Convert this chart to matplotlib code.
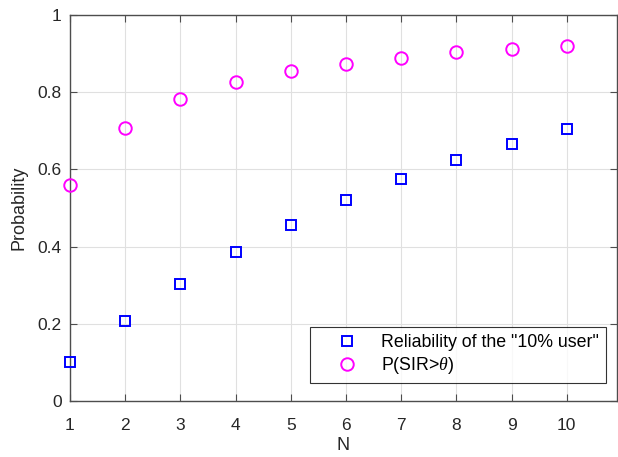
import matplotlib
matplotlib.use("Agg")
import matplotlib.pyplot as plt

N = [1, 2, 3, 4, 5, 6, 7, 8, 9, 10]
reliability = [0.100, 0.208, 0.303, 0.386, 0.456, 0.521, 0.575, 0.624, 0.666, 0.705]
p_sir = [0.560, 0.708, 0.782, 0.826, 0.855, 0.873, 0.889, 0.903, 0.912, 0.920]
xticks = [1, 2, 3, 4, 5, 6, 7, 8, 9, 10]
yticks = [0, 0.2, 0.4, 0.6, 0.8, 1]
ytick_labels = ["0", "0.2", "0.4", "0.6", "0.8", "1"]

plt.rcParams['font.family'] = ['Liberation Sans', 'DejaVu Sans']
plt.rcParams['mathtext.fontset'] = 'custom'
plt.rcParams['mathtext.it'] = 'Liberation Serif:italic'

fig = plt.figure(figsize=(6.18, 4.57), dpi=100)
ax = fig.add_axes([70/618, 1-401/457, (617-70)/618, (401-15)/457])

ax.plot(N, reliability, linestyle='none', marker='s', markersize=7, markerfacecolor='none',
        markeredgecolor=(0, 0, 1), markeredgewidth=1.4, label='Reliability of the "10% user"',
        clip_on=False, zorder=3)
ax.plot(N, p_sir, linestyle='none', marker='o', markersize=9, markerfacecolor='none',
        markeredgecolor=(1, 0, 1), markeredgewidth=1.4, label=r'P(SIR>$\theta$)',
        clip_on=False, zorder=3)

ax.set_xlim(1, 10.91)
ax.set_ylim(0, 1)
ax.set_xticks(xticks)
ax.set_yticks(yticks)
ax.set_yticklabels(ytick_labels)
ax.grid(True, color=(0.88, 0.88, 0.88), linewidth=0.8)
ax.set_axisbelow(True)
for s in ax.spines.values():
    s.set_color((0.3, 0.3, 0.3))
    s.set_linewidth(1.0)
ax.tick_params(direction='in', top=True, right=True, length=5, width=0.8,
               color=(0.3, 0.3, 0.3), labelcolor=(0.15, 0.15, 0.15), labelsize=12.5)
ax.tick_params(axis='x', pad=12)
ax.tick_params(axis='y', pad=6)
ax.set_xlabel('N', fontsize=13, color=(0.15, 0.15, 0.15), labelpad=3)
ax.set_ylabel('Probability', fontsize=13, color=(0.15, 0.15, 0.15), labelpad=7)

leg = ax.legend(loc='lower right', fontsize=12.8, frameon=True, fancybox=False, edgecolor='black',
                borderpad=0.4, handlelength=3.37, handletextpad=0.22, labelspacing=0.2,
                borderaxespad=0)
leg.get_frame().set_linewidth(0.8)
leg.set_bbox_to_anchor((606/618, 1-383/457), transform=fig.transFigure)

fig.savefig('out.png', dpi=100)
